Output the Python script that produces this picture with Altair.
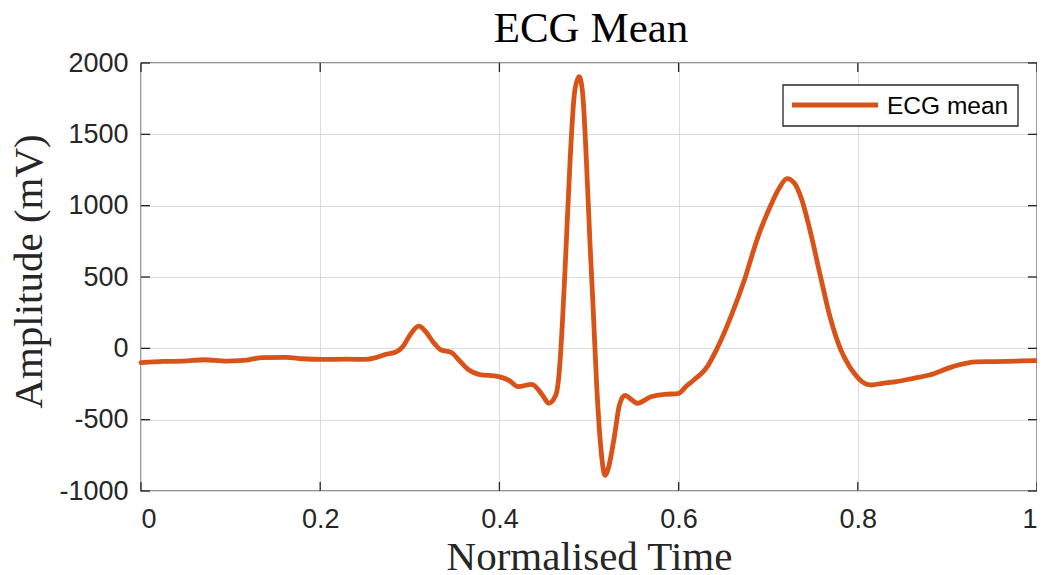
import altair as alt
import pandas as pd

# ---- data ----
t = [0.000, 0.025, 0.047, 0.071, 0.095, 0.114, 0.136, 0.162, 0.180, 0.203,
     0.229, 0.251, 0.262, 0.273, 0.284, 0.292, 0.301, 0.310, 0.318, 0.326,
     0.335, 0.346, 0.356, 0.366, 0.377, 0.399, 0.410, 0.421, 0.436, 0.448,
     0.455, 0.463, 0.467, 0.4705, 0.474, 0.479, 0.484, 0.489, 0.493, 0.497,
     0.501, 0.5045, 0.5085, 0.513, 0.518, 0.522, 0.528, 0.534, 0.540, 0.548,
     0.554, 0.569, 0.584, 0.599, 0.610, 0.617, 0.632, 0.643, 0.659, 0.674,
     0.688, 0.703, 0.712, 0.721, 0.729, 0.737, 0.747, 0.758, 0.769, 0.781,
     0.790, 0.796, 0.805, 0.814, 0.828, 0.843, 0.862, 0.880, 0.906, 0.932,
     0.954, 0.977, 1.000]
amp = [-100, -92, -90, -80, -90, -85, -65, -63, -73, -78,
       -76, -78, -65, -42, -28, 10, 100, 155, 115, 45,
       -12, -28, -90, -152, -182, -198, -222, -269, -252, -327,
       -385, -327, -150, 200, 650, 1330, 1800, 1905, 1780, 1330,
       750, 300, -250, -680, -890, -830, -631, -397, -330, -362,
       -385, -339, -322, -318, -257, -222, -128, 0, 233, 490,
       771, 1004, 1120, 1190, 1160, 1051, 818, 514, 220, -10,
       -120, -175, -235, -257, -245, -233, -210, -187, -128, -95,
       -93, -89, -86]
x_ticks = [0, 0.2, 0.4, 0.6, 0.8, 1]
y_ticks = [-1000, -500, 0, 500, 1000, 1500, 2000]
series_name = ["ECG mean"]
chart_title = ["ECG Mean"]

W, H = 896, 428
ORANGE = "#D95319"
AX = "#262626"
SERIF = "Liberation Serif"
SANS = "Liberation Sans"

df = pd.DataFrame({"t": t, "amp": amp})
xscale = alt.Scale(domain=[0, 1], nice=False, zero=False)
yscale = alt.Scale(domain=[-1000, 2000], nice=False, zero=False)

x_axis = alt.Axis(
    values=x_ticks, labelExpr="'' + datum.value", title="Normalised Time",
    grid=True, gridColor="#dcdcdc", gridWidth=1, domain=False, ticks=False,
    labelFont=SANS, labelFontSize=27, labelColor=AX, labelPadding=15,
    titleFont=SERIF, titleFontSize=41, titleFontWeight="normal", titleColor=AX,
    titleBaseline="alphabetic", titleY=78)
y_axis = alt.Axis(
    values=y_ticks, labelExpr="'' + datum.value", title="Amplitude (mV)",
    grid=True, gridColor="#dcdcdc", gridWidth=1, domain=False, ticks=False,
    labelFont=SANS, labelFontSize=27, labelColor=AX, labelPadding=13,
    titleFont=SERIF, titleFontSize=41, titleFontWeight="normal", titleColor=AX,
    titleBaseline="alphabetic", titleX=-100, titleY=208, titleAngle=-90)

line = alt.Chart(df).mark_line(
    color=ORANGE, strokeWidth=4.8, interpolate="monotone",
    strokeCap="round", strokeJoin="round"
).encode(
    x=alt.X("t:Q", scale=xscale, axis=x_axis),
    y=alt.Y("amp:Q", scale=yscale, axis=y_axis),
)

xt = pd.DataFrame({"xt": x_ticks})
yt = pd.DataFrame({"yt": y_ticks})
bottom_ticks = alt.Chart(xt).mark_rule(color=AX, strokeWidth=1.3).encode(
    x=alt.X("xt:Q", scale=xscale, axis=x_axis), y=alt.value(H - 9), y2=alt.value(H))
top_ticks = alt.Chart(xt).mark_rule(color=AX, strokeWidth=1.3).encode(
    x=alt.X("xt:Q", scale=xscale, axis=x_axis), y=alt.value(0), y2=alt.value(9))
left_ticks = alt.Chart(yt).mark_rule(color=AX, strokeWidth=1.3).encode(
    y=alt.Y("yt:Q", scale=yscale, axis=y_axis), x=alt.value(0), x2=alt.value(9))
right_ticks = alt.Chart(yt).mark_rule(color=AX, strokeWidth=1.3).encode(
    y=alt.Y("yt:Q", scale=yscale, axis=y_axis), x=alt.value(W - 9), x2=alt.value(W))

leg = pd.DataFrame({"label": series_name})
leg_box = alt.Chart(leg).mark_rect(fill="white", stroke=AX, strokeWidth=1.3).encode(
    x=alt.value(642), x2=alt.value(877), y=alt.value(22), y2=alt.value(63))
leg_line = alt.Chart(leg).mark_rule(color=ORANGE, strokeWidth=4.8).encode(
    x=alt.value(651), x2=alt.value(737), y=alt.value(42))
leg_text = alt.Chart(leg).mark_text(
    align="left", baseline="middle", font=SANS, fontSize=24.5, color="black"
).encode(x=alt.value(746), y=alt.value(44), text="label:N")

ttl = pd.DataFrame({"title": chart_title})
title_text = alt.Chart(ttl).mark_text(
    align="center", baseline="alphabetic", font=SERIF, fontSize=43, color="black"
).encode(x=alt.value(450), y=alt.value(-21), text="title:N")

chart = alt.layer(
    line, bottom_ticks, top_ticks, left_ticks, right_ticks,
    leg_box, leg_line, leg_text, title_text
).properties(
    width=W, height=H,
    autosize=alt.AutoSizeParams(type="none"),
    padding={"left": 133, "top": 55, "right": 0, "bottom": 84},
).configure_view(stroke=AX, strokeWidth=1.3)

chart.save("out.html", embed_options={"renderer": "svg", "actions": False})
